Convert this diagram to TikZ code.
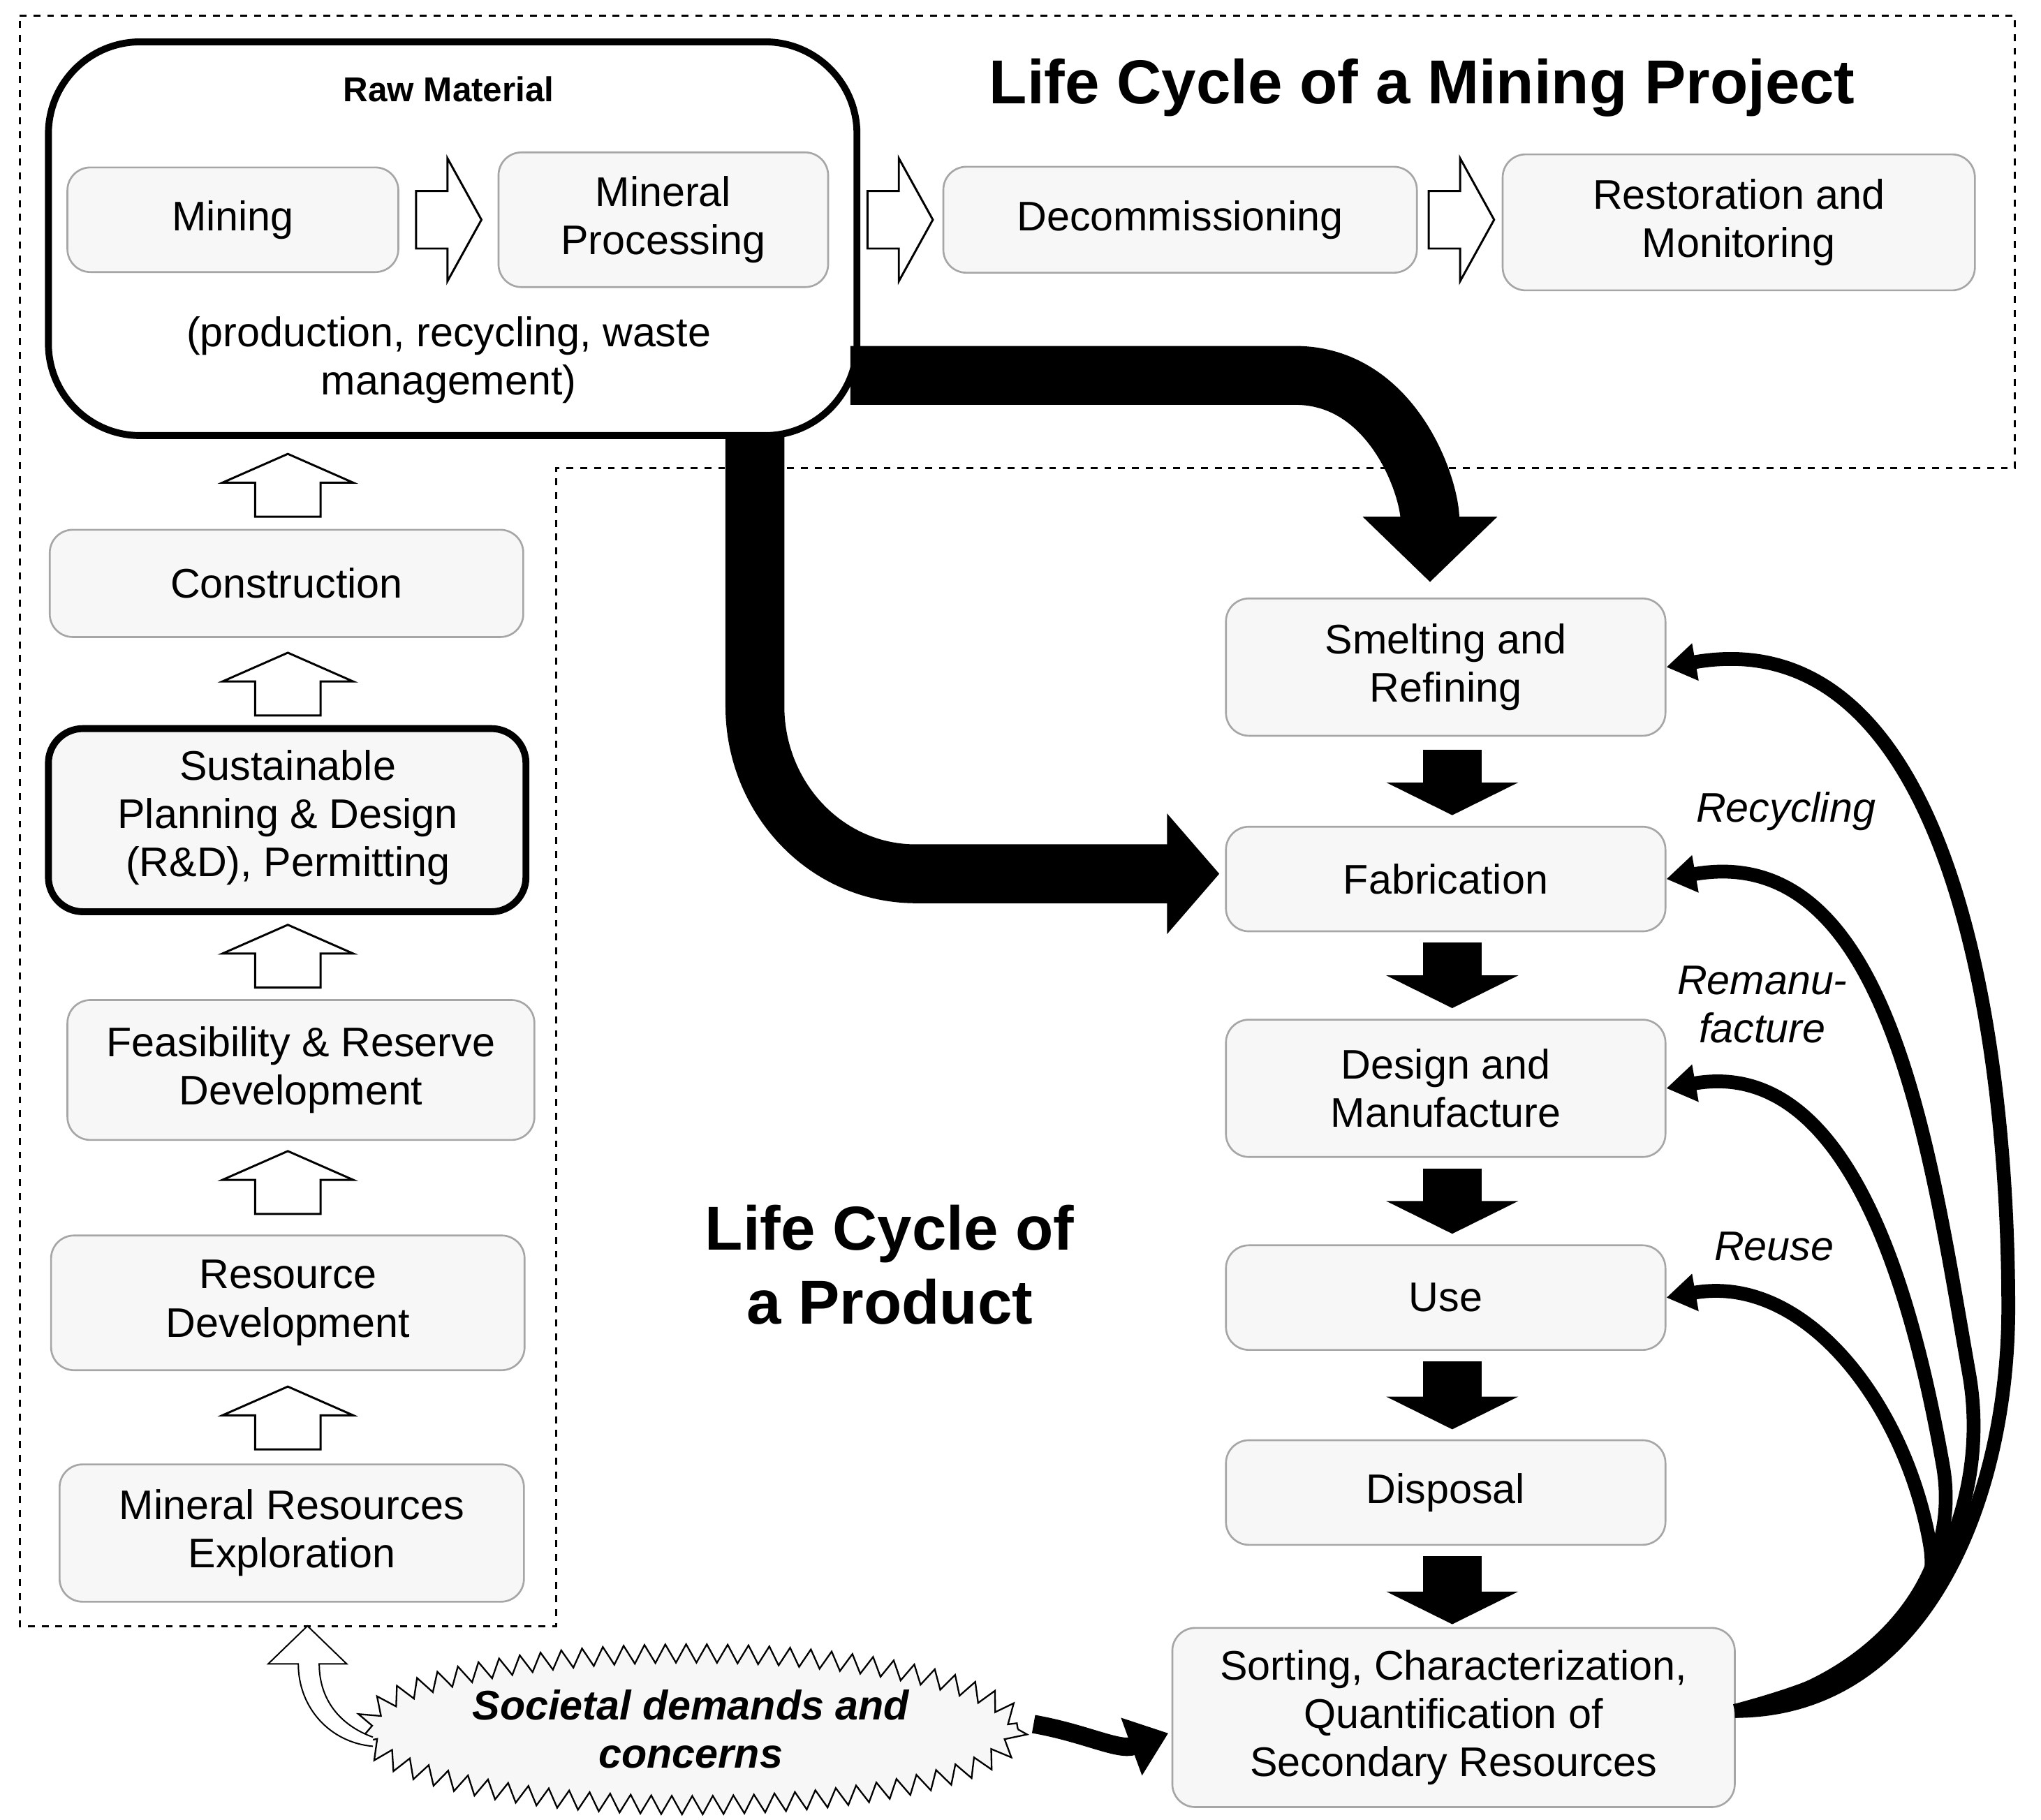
\documentclass[tikz,border=0pt]{standalone}
\usepackage{fontspec}
\setmainfont{Liberation Sans}
\usetikzlibrary{arrows.meta,decorations.pathmorphing,shapes.geometric}
\begin{document}
\begin{tikzpicture}[x=0.02cm,y=-0.02cm,
 box/.style={draw=gray!70,fill=gray!6,rounded corners=10pt,line width=0.8pt,align=center,font=\fontsize{18}{21}\selectfont},
 blk/.style={draw,fill=white,line width=0.9pt,line join=miter},
 darr/.style={-{Triangle[length=0.5cm,width=2.0cm]},line width=0.9cm},
 fb/.style={-{Triangle[length=0.45cm,width=0.55cm]},line width=6pt},
 lab/.style={font=\fontsize{18}{21}\selectfont\itshape,align=center}]
\useasboundingbox (0,0) rectangle (1560,1391);
\draw[dashed,line width=0.9pt] (15,12)--(1540,12)--(1540,358)--(425,358)--(425,1243)--(15,1243)--cycle;
% raw material
\draw[line width=3pt,rounded corners=40pt,fill=white] (37,32) rectangle (655,333);
\node[font=\fontsize{15}{18}\selectfont\bfseries] (rawt) at (343,68) {Raw Material};
\node[box,minimum width=5.06cm,minimum height=1.6cm] (mining) at (178,168) {Mining};
\node[box,minimum width=5.04cm,minimum height=2.06cm] (proc) at (507,168) {Mineral\\Processing};
\node[font=\fontsize{18}{21}\selectfont,align=center] (prodt) at (343,275) {(production, recycling, waste\\management)};
\node[box,minimum width=7.24cm,minimum height=1.62cm] (decom) at (902,168) {Decommissioning};
\node[box,minimum width=7.22cm,minimum height=2.08cm] (rest) at (1329,170) {Restoration and\\Monitoring};
\node[font=\fontsize{27}{32}\selectfont\bfseries] (title) at (1087,67) {Life Cycle of a Mining Project};
\foreach \x in {318,663,1092}
  \draw[blk] (\x,146) -- ++(24,0) -- ++(0,-25) -- ++(26,47) -- ++(-26,47) -- ++(0,-25) -- ++(-24,0) -- cycle;
% left column
\node[box,minimum width=7.24cm,minimum height=1.64cm] (cons) at (219,446) {Construction};
\draw[line width=3pt,rounded corners=15pt,fill=gray!6] (37,557) rectangle (402,697);
\node[font=\fontsize{18}{21}\selectfont,align=center] (sust) at (220,625) {Sustainable\\Planning \& Design\\(R\&D), Permitting};
\node[box,minimum width=7.14cm,minimum height=2.14cm] (feas) at (230,818) {Feasibility \& Reserve\\Development};
\node[box,minimum width=7.24cm,minimum height=2.06cm] (resd) at (220,996) {Resource\\Development};
\node[box,minimum width=7.1cm,minimum height=2.1cm] (expl) at (223,1172) {Mineral Resources\\Exploration};
\foreach \y in {395,547,755,928,1108}
  \draw[blk] (195,\y) -- ++(0,-26) -- ++(-25,0) -- ++(50,-22) -- ++(50,22) -- ++(-25,0) -- ++(0,26) -- cycle;
% right column
\node[box,minimum width=6.72cm,minimum height=2.1cm] (smelt) at (1105,510) {Smelting and\\Refining};
\node[box,minimum width=6.72cm,minimum height=1.6cm] (fab) at (1105,672) {Fabrication};
\node[box,minimum width=6.72cm,minimum height=2.1cm] (des) at (1105,832) {Design and\\Manufacture};
\node[box,minimum width=6.72cm,minimum height=1.6cm] (use) at (1105,992) {Use};
\node[box,minimum width=6.72cm,minimum height=1.6cm] (disp) at (1105,1141) {Disposal};
\node[box,minimum width=8.6cm,minimum height=2.74cm] (sort) at (1111,1313) {Sorting, Characterization,\\Quantification of\\Secondary Resources};
\draw[darr] (smelt.south)++(5,10) -- ++(0,50);
\draw[darr] (fab.south)++(5,8) -- ++(0,50);
\draw[darr] (des.south)++(5,8) -- ++(0,50);
\draw[darr] (use.south)++(5,8) -- ++(0,52);
\draw[darr] (disp.south)++(5,8) -- ++(0,52);
% big arrows
\draw[-{Triangle[length=1.0cm,width=2.0cm]},line width=0.9cm] (650,287) -- (990,287) to[out=0,in=90] (1093,445);
\draw[-{Triangle[length=0.8cm,width=1.8cm]},line width=0.9cm] (577,333) -- (577,540) to[out=-90,in=180] (700,668) -- (932,668);
\node[font=\fontsize{27}{32}\selectfont\bfseries,align=center] (prodtitle) at (680,967) {Life Cycle of\\a Product};
% feedback
\coordinate (so) at (1326,1308);
\draw[fb] (so) to[out=0,in=-90] (1535,1000) to[out=90,in=10] (smelt.east);
\draw[fb] (so) to[out=5,in=-80] (1505,1050) to[out=100,in=10] (fab.east);
\draw[fb] (so) to[out=10,in=-80] (1485,1120) to[out=100,in=10] (des.east);
\draw[fb] (so) to[out=15,in=-80] (1475,1180) to[out=100,in=10] (use.east);
\node[lab] (recy) at (1365,620) {Recycling};
\node[lab] (reman) at (1347,768) {Remanu-\\facture};
\node[lab] (reuse) at (1356,953) {Reuse};
% societal
\draw[decorate,decoration={zigzag,segment length=9pt,amplitude=4pt},fill=gray!6,line width=0.7pt] (528,1322) ellipse (250 and 58);
\node[font=\fontsize{18}{21}\selectfont\bfseries\itshape,align=center] (soc) at (528,1322) {Societal demands and\\concerns};
\draw[blk,line width=0.6pt] (285,1335) to[out=175,in=-90] (228,1272) -- (205,1272) -- (235,1243) -- (265,1272) -- (244,1272) to[out=-90,in=160] (285,1328);
\draw[-{Triangle[length=0.6cm,width=0.9cm]},line width=8pt] (790,1318) to[out=-10,in=200] (893,1325);
\end{tikzpicture}
\end{document}
